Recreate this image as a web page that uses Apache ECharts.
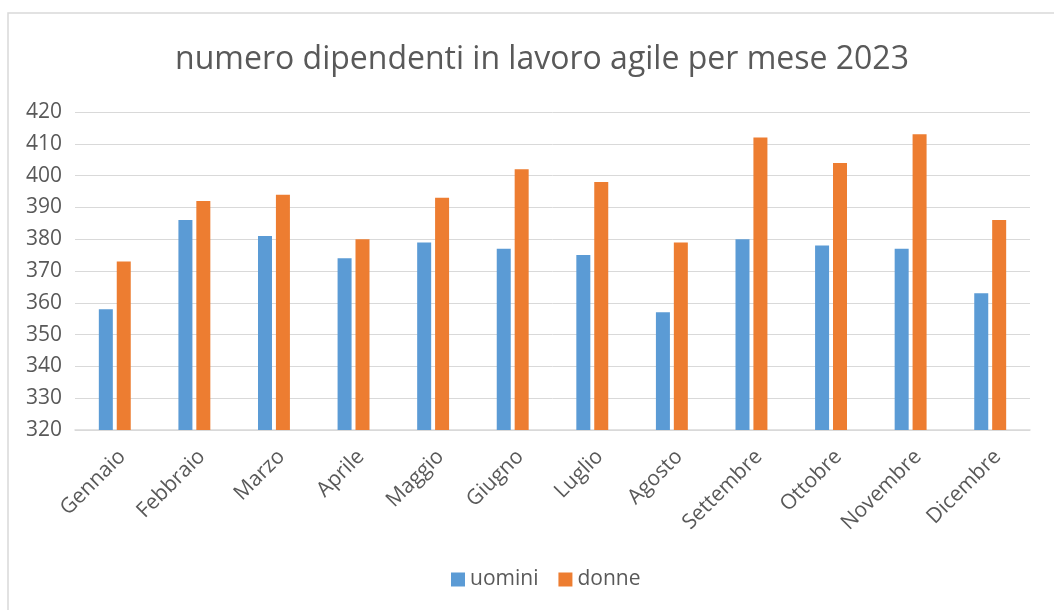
<!DOCTYPE html>
<html lang="it">
<head>
    <meta charset="UTF-8">
    <title>numero dipendenti in lavoro agile per mese 2023</title>
    <script src="https://cdn.jsdelivr.net/npm/echarts@6/dist/echarts.min.js"></script>
    <style>
        * { padding: 0; margin: 0; }
        body { background: #ffffff; }
        #chart { width: 1054px; height: 610px; }
    </style>
</head>
<body>
<div id="chart"></div>
<script>
    var mesi = ['Gennaio', 'Febbraio', 'Marzo', 'Aprile', 'Maggio', 'Giugno',
        'Luglio', 'Agosto', 'Settembre', 'Ottobre', 'Novembre', 'Dicembre'];
    var uomini = [358, 386, 381, 374, 379, 377, 375, 357, 380, 378, 377, 363];
    var donne = [373, 392, 394, 380, 393, 402, 398, 379, 412, 404, 413, 386];

    var testo = '#595959';
    var griglia = '#d9d9d9';
    var font = '"Open Sans", "DejaVu Sans", sans-serif';

    var my_chart = echarts.init(document.getElementById('chart'));
    my_chart.setOption({
        backgroundColor: '#ffffff',
        animation: false,
        textStyle: { fontFamily: font },
        // bordo del grafico (si vedono solo lato sinistro e alto)
        graphic: [{
            type: 'rect',
            shape: { x: 8, y: 13, width: 1100, height: 700 },
            style: { fill: 'none', stroke: griglia, lineWidth: 1.5 },
            silent: true
        }],
        title: {
            text: 'numero dipendenti in lavoro agile per mese 2023',
            left: 537,
            textAlign: 'center',
            top: 39,
            textStyle: {
                fontFamily: font,
                fontSize: 32,
                fontWeight: 'normal',
                color: testo
            }
        },
        legend: {
            bottom: 15,
            left: 446,
            itemWidth: 14,
            itemHeight: 14,
            itemGap: 20,
            icon: 'rect',
            textStyle: { fontFamily: font, fontSize: 21, color: testo },
            data: ['uomini', 'donne']
        },
        grid: {
            left: 75,
            right: 24,
            top: 112,
            bottom: 180,
            containLabel: false
        },
        xAxis: {
            type: 'category',
            data: mesi,
            axisTick: { show: false },
            axisLine: { lineStyle: { color: griglia, width: 1.5 } },
            axisLabel: {
                rotate: 45,
                margin: 16,
                verticalAlign: 'top',
                fontFamily: font,
                fontSize: 21,
                color: testo
            }
        },
        yAxis: {
            type: 'value',
            min: 320,
            max: 420,
            interval: 10,
            axisLine: { show: false },
            axisTick: { show: false },
            axisLabel: { margin: 13, fontFamily: font, fontSize: 21, color: testo },
            splitLine: { lineStyle: { color: griglia, width: 1 } }
        },
        series: [{
            name: 'uomini',
            type: 'bar',
            data: uomini,
            barWidth: 14,
            barGap: '28%',
            itemStyle: { color: '#5b9bd5' }
        }, {
            name: 'donne',
            type: 'bar',
            data: donne,
            barWidth: 14,
            itemStyle: { color: '#ed7d31' }
        }]
    });
</script>
</body>
</html>
